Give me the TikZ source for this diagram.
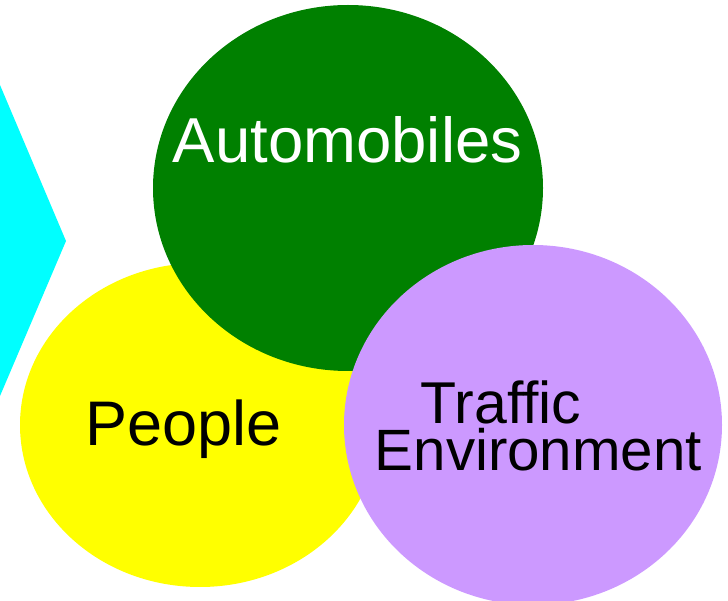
\documentclass[tikz,border=0pt]{standalone}
\usepackage{fontspec}
\setmainfont{Liberation Sans}
\definecolor{autogreen}{HTML}{008000}
\definecolor{peopleyellow}{HTML}{FFFF00}
\definecolor{trafficlilac}{HTML}{CC99FF}
\definecolor{chevroncyan}{HTML}{00FFFF}
\tikzset{
    label/.style={inner sep=0pt, font=\fontsize{#1}{#1}\selectfont},
}
\begin{document}
\begin{tikzpicture}[x=1pt, y=-1pt]
    \useasboundingbox (0,0) rectangle (728,601);
    % chevron on the left
    \fill[chevroncyan] (0,85) -- (66,241) -- (0,396) -- cycle;
    % the three ellipses, back to front
    \fill[peopleyellow] (200,425) ellipse [x radius=180, y radius=162];
    \fill[autogreen] (348,188) ellipse [x radius=195, y radius=183];
    \fill[trafficlilac] (533,425) ellipse [x radius=189, y radius=180];
    % labels
    \node[label=63.5, text=white, anchor=base] (autos) at (347.5,163) {Automobiles};
    \node[label=63, anchor=base west] (people) at (85,445) {People};
    \node[label=59, anchor=base west] (traffic) at (420.5,423) {Traffic};
    \node[label=58.3, anchor=base west] (environment) at (374.5,470) {Environment};
\end{tikzpicture}
\end{document}
